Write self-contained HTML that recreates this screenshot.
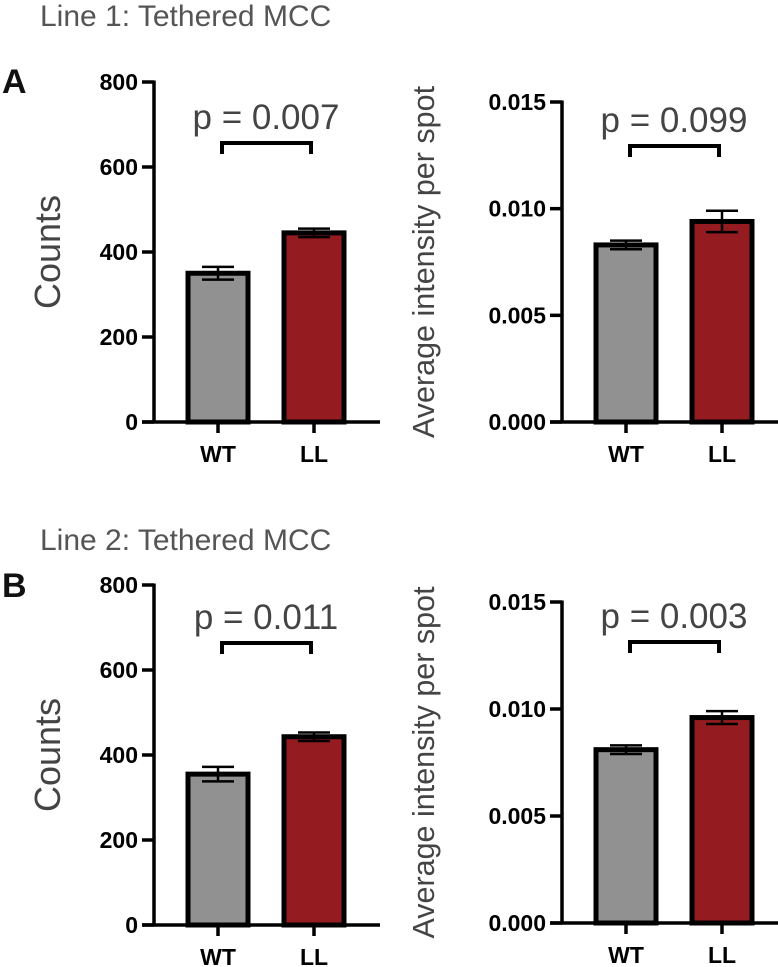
<!DOCTYPE html>
<html><head><meta charset="utf-8"><style>
body{margin:0;background:#fff;}
svg{display:block;font-family:"Liberation Sans",Arial,sans-serif;}
</style></head><body>
<svg id="fig" width="778" height="967" viewBox="0 0 778 967">
<text x="40" y="26" font-size="30" fill="#555">Line 1: Tethered MCC</text>
<text x="2" y="93" font-size="34" font-weight="bold" fill="#111">A</text>
<text x="40" y="550" font-size="30" fill="#555">Line 2: Tethered MCC</text>
<text x="2" y="597" font-size="34" font-weight="bold" fill="#111">B</text>
</svg>
<script>
const categories = ["WT", "LL"];
const countsTicks = [0, 200, 400, 600, 800];
const intensityTicks = [0, 0.005, 0.010, 0.015];
const intensityTickLabels = ["0.000", "0.005", "0.010", "0.015"];
const line1Counts = [350, 445];
const line1CountsErr = [15, 10];
const line1Intensity = [0.0083, 0.0094];
const line1IntensityErr = [0.0002, 0.0005];
const line2Counts = [355, 443];
const line2CountsErr = [17, 10];
const line2Intensity = [0.0081, 0.0096];
const line2IntensityErr = [0.0002, 0.0003];
const pValues = ["p = 0.007", "p = 0.099", "p = 0.011", "p = 0.003"];
const barColors = ["#919191", "#941b1f"];

const svg = document.getElementById('fig');
const NS = 'http://www.w3.org/2000/svg';
function mk(tag, attrs, parent){
  const e = document.createElementNS(NS, tag);
  for (const k in attrs) e.setAttribute(k, attrs[k]);
  (parent||svg).appendChild(e);
  return e;
}
function panel(id, ax, y0, yTop, ticks, tickLabels, vmax, vals, errs, pText, title, titleSize, titleX, xEnd, bracketOffset){
  const g = mk('g', {});
  
  
  const ys = v => y0 - (v / vmax) * (y0 - yTop);
  const xs = i => ax + 64 + i * 96;
  const barW = 60;
  const yAxis = mk('line', {x1: ax, x2: ax, y1: yTop - 1.5, y2: y0, stroke: '#000', 'stroke-width': 3.5}, g);
  
  
  ticks.forEach((t, i) => {
    const y = ys(t);
    const tk = mk('line', {x1: ax - 12, x2: ax, y1: y, y2: y, stroke: '#000', 'stroke-width': 3.5}, g);
    
    
    const tl = mk('text', {x: ax - 16, y: y + 8, 'font-size': 23, 'font-weight': 'bold', 'text-anchor': 'end', fill: '#000'}, g);
    tl.textContent = tickLabels[i];
    
    
  });
  const xAxis = mk('line', {x1: ax - 12, x2: xEnd, y1: y0, y2: y0, stroke: '#000', 'stroke-width': 3.5}, g);
  
  
  const ty = (y0 + yTop) / 2;
  const tt = mk('text', {x: titleX, y: ty, 'font-size': titleSize, fill: '#444', 'text-anchor': 'middle', transform: `rotate(-90 ${titleX} ${ty})`}, g);
  tt.textContent = title;
  
  
  categories.forEach((c, i) => {
    const cx = xs(i);
    const top = ys(vals[i]);
    const eTop = ys(vals[i] + errs[i]), eBot = ys(vals[i] - errs[i]);
    const bar = mk('rect', {x: cx - barW/2, y: top, width: barW, height: y0 - top, fill: barColors[i], stroke: '#000', 'stroke-width': 5}, g);
    
    
    const ev = mk('line', {x1: cx, x2: cx, y1: eTop, y2: eBot, stroke: '#000', 'stroke-width': 2.5}, g);
    
    
    [eTop, eBot].forEach(yy => {
      const cap = mk('line', {x1: cx - 16, x2: cx + 16, y1: yy, y2: yy, stroke: '#000', 'stroke-width': 2.5}, g);
      
      
    });
    const xt = mk('line', {x1: cx, x2: cx, y1: y0, y2: y0 + 11, stroke: '#000', 'stroke-width': 3.5}, g);
    
    
    const xl = mk('text', {x: cx, y: y0 + 40, 'font-size': 23, 'font-weight': 'bold', 'text-anchor': 'middle', fill: '#000'}, g);
    xl.textContent = c;
    
    
  });
  const by = yTop + bracketOffset;
  const b = mk('path', {d: `M${xs(0)+4} ${by+11} V${by} H${xs(1)-3} V${by+11}`, fill: 'none', stroke: '#000', 'stroke-width': 4}, g);
  
  
  const pt = mk('text', {x: (xs(0)+xs(1))/2, y: by - 14, 'font-size': 35, fill: '#444', 'text-anchor': 'middle'}, g);
  pt.textContent = pText;
  
  
}
panel('panel-a-counts', 154, 422, 82, countsTicks, countsTicks.map(String), 800, line1Counts, line1CountsErr, pValues[0], 'Counts', 36, 60, 380, 61);
panel('panel-a-intensity', 562, 422, 102, intensityTicks, intensityTickLabels, 0.015, line1Intensity, line1IntensityErr, pValues[1], 'Average intensity per spot', 30.5, 434, 778, 44);
panel('panel-b-counts', 154, 925, 585, countsTicks, countsTicks.map(String), 800, line2Counts, line2CountsErr, pValues[2], 'Counts', 36, 60, 380, 58);
panel('panel-b-intensity', 562, 923, 602, intensityTicks, intensityTickLabels, 0.015, line2Intensity, line2IntensityErr, pValues[3], 'Average intensity per spot', 30.5, 434, 778, 40);
</script>
</body></html>
